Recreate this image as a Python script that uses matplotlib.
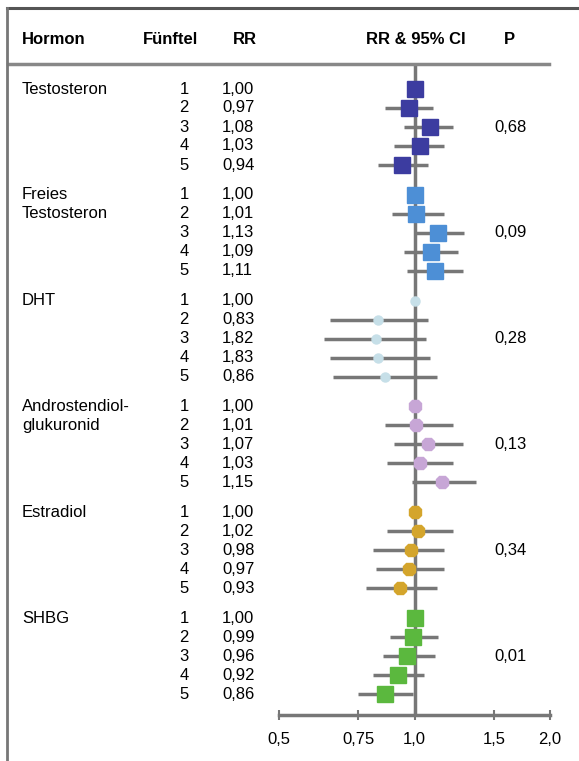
import matplotlib
matplotlib.use("Agg")
import matplotlib.pyplot as plt
import matplotlib.transforms as mtransforms
from matplotlib.lines import Line2D
import numpy as np

plt.rcParams["font.family"] = ["Liberation Sans", "DejaVu Sans"]

# ---------------------------------------------------------------------------
# Data
# ---------------------------------------------------------------------------
hormones = ["Testosteron", "Freies\nTestosteron", "DHT",
            "Androstendiol-\nglukuronid", "Estradiol", "SHBG"]
quintiles = ["1", "2", "3", "4", "5"]

rr_labels = [
    ["1,00", "0,97", "1,08", "1,03", "0,94"],
    ["1,00", "1,01", "1,13", "1,09", "1,11"],
    ["1,00", "0,83", "1,82", "1,83", "0,86"],
    ["1,00", "1,01", "1,07", "1,03", "1,15"],
    ["1,00", "1,02", "0,98", "0,97", "0,93"],
    ["1,00", "0,99", "0,96", "0,92", "0,86"],
]
rr_testo = [1.00, 0.97, 1.08, 1.03, 0.94]
rr_free = [1.00, 1.01, 1.13, 1.09, 1.11]
rr_dht = [1.00, 0.83, 0.82, 0.83, 0.86]
rr_adg = [1.00, 1.01, 1.07, 1.03, 1.15]
rr_e2 = [1.00, 1.02, 0.98, 0.97, 0.93]
rr_shbg = [1.00, 0.99, 0.96, 0.92, 0.86]

lo_testo = [np.nan, 0.86, 0.95, 0.90, 0.83]
hi_testo = [np.nan, 1.10, 1.22, 1.16, 1.07]
lo_free = [np.nan, 0.89, 1.00, 0.95, 0.96]
hi_free = [np.nan, 1.16, 1.29, 1.25, 1.28]
lo_dht = [np.nan, 0.65, 0.63, 0.65, 0.66]
hi_dht = [np.nan, 1.07, 1.06, 1.08, 1.12]
lo_adg = [np.nan, 0.86, 0.90, 0.87, 0.985]
hi_adg = [np.nan, 1.22, 1.28, 1.22, 1.37]
lo_e2 = [np.nan, 0.87, 0.81, 0.82, 0.78]
hi_e2 = [np.nan, 1.22, 1.16, 1.16, 1.12]
lo_shbg = [np.nan, 0.88, 0.85, 0.81, 0.75]
hi_shbg = [np.nan, 1.13, 1.11, 1.05, 0.99]

p_values = ["0,68", "0,09", "0,28", "0,13", "0,34", "0,01"]

xticks = [0.5, 0.75, 1.0, 1.5, 2.0]
xticklabels = ["0,5", "0,75", "1,0", "1,5", "2,0"]

# ---------------------------------------------------------------------------
# Styling
# ---------------------------------------------------------------------------
rr_all = [rr_testo, rr_free, rr_dht, rr_adg, rr_e2, rr_shbg]
lo_all = [lo_testo, lo_free, lo_dht, lo_adg, lo_e2, lo_shbg]
hi_all = [hi_testo, hi_free, hi_dht, hi_adg, hi_e2, hi_shbg]
colors = ["#3c3ca0", "#4d8fd6", "#c6dfe8", "#c7a6d6", "#d4a52c", "#5bb83e"]
markers = ["s", "s", "o", "8", "8", "s"]
msizes = [11, 11, 6.5, 9.5, 9.5, 11.5]
C_LINE = "#777777"
FS = 12

W, H = 579, 761
fig = plt.figure(figsize=(W / 100, H / 100), dpi=100)


def fx(px):
    return px / W


def fy(py):
    return 1 - py / H


# forest axes: x from 0.5 to 2.0 (log), rows 19 px apart
ROW0, ROWH, GROUP = 89, 19.0, 5.57
AX_TOP, AX_BOT = 64, 715
ax = fig.add_axes([fx(279), fy(AX_BOT), fx(550) - fx(279), (AX_BOT - AX_TOP) / H])
ax.set_xscale("log")
ax.set_xlim(0.5, 2.0)
ax.set_ylim((AX_BOT - ROW0) / ROWH, (AX_TOP - ROW0) / ROWH)
ax.patch.set_alpha(0)
for s in ["top", "right", "left"]:
    ax.spines[s].set_visible(False)
ax.spines["bottom"].set_color(C_LINE)
ax.spines["bottom"].set_linewidth(2.5)
ax.set_yticks([])
ax.set_xticks(xticks, xticklabels)
ax.xaxis.set_minor_locator(plt.NullLocator())
ax.tick_params(axis="x", direction="inout", length=7, width=1.5, color=C_LINE,
               labelsize=FS, pad=9)
ax.axvline(1.0, color=C_LINE, linewidth=2.5, zorder=1)

trans = mtransforms.blended_transform_factory(fig.transFigure, ax.transData)

for g, name in enumerate(hormones):
    ys = [g * GROUP + k for k in range(5)]
    for k, line in enumerate(name.split("\n")):
        ax.text(fx(22), ys[k], line, transform=trans, ha="left", va="center",
                fontsize=FS)
    for k in range(5):
        ax.text(fx(184), ys[k], quintiles[k], transform=trans, ha="center",
                va="center", fontsize=FS)
        ax.text(fx(222), ys[k], rr_labels[g][k], transform=trans, ha="left",
                va="center", fontsize=FS)
        if not np.isnan(lo_all[g][k]):
            ax.plot([lo_all[g][k], hi_all[g][k]], [ys[k], ys[k]], color=C_LINE,
                    linewidth=2.5, zorder=2, solid_capstyle="butt")
    ax.plot(rr_all[g], ys, linestyle="none", marker=markers[g],
            markersize=msizes[g], color=colors[g], zorder=3)
    ax.text(fx(494), ys[2], p_values[g], transform=trans, ha="left",
            va="center", fontsize=FS)

# header
hy = fy(40)
fig.text(fx(22), hy, "Hormon", ha="left", va="center", fontsize=FS, fontweight="bold")
fig.text(fx(143), hy, "Fünftel", ha="left", va="center", fontsize=FS, fontweight="bold")
fig.text(fx(233), hy, "RR", ha="left", va="center", fontsize=FS, fontweight="bold")
fig.text(fx(466), hy, "RR & 95% CI", ha="right", va="center", fontsize=FS, fontweight="bold")
fig.text(fx(509), hy, "P", ha="center", va="center", fontsize=FS, fontweight="bold")

# header separator and frame
fig.add_artist(Line2D([fx(8), fx(549)], [fy(AX_TOP), fy(AX_TOP)], color="#888888",
                      linewidth=2.5))
fig.add_artist(Line2D([fx(7), fx(579)], [fy(8), fy(8)], color="#555555", linewidth=2.2))
fig.add_artist(Line2D([fx(7), fx(7)], [fy(8), fy(761)], color="#777777", linewidth=2.0))

fig.savefig("out.png", dpi=100)
